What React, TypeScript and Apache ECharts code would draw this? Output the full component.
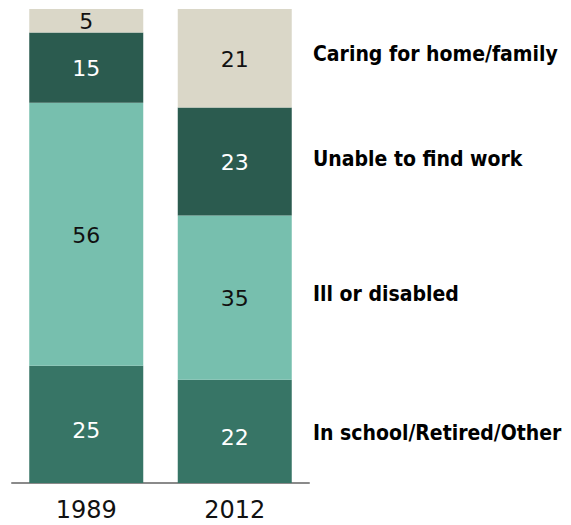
import React, { useEffect, useRef } from "react";
import * as echarts from "echarts";

const years = ["1989", "2012"];
const seriesNames = [
  "In school/Retired/Other",
  "Ill or disabled",
  "Unable to find work",
  "Caring for home/family",
];
const schoolRetiredOther = [25, 22];
const illDisabled = [56, 35];
const unableToFindWork = [15, 23];
const caringHomeFamily = [5, 21];
const colors = ["#377566", "#77bfae", "#2b5b4f", "#dad7c8"];
const labelColors = ["#ffffff", "#111111", "#ffffff", "#111111"];
const labelOffsets = [6, 1, 1, 1];
const rightLabelY = [434, 295, 160, 55];

export default function App() {
  const ref = useRef<HTMLDivElement>(null);
  useEffect(() => {
    document.body.style.margin = "0";
    const chart = echarts.init(ref.current!, null, { renderer: "svg" });
    const data = [schoolRetiredOther, illDisabled, unableToFindWork, caringHomeFamily];
    chart.setOption({
      animation: false,
      grid: { left: 12, width: 297, top: 9, bottom: 42 },
      xAxis: {
        type: "category",
        data: years,
        axisLine: { lineStyle: { color: "#8a8a8a", width: 2 } },
        axisTick: { show: false },
        axisLabel: {
          margin: 17,
          lineHeight: 20,
          color: "#111",
          fontSize: 24,
          fontFamily: "DejaVu Sans",
        },
      },
      yAxis: { type: "value", min: 0, max: 101, show: false },
      series: data.map((d, i) => ({
        type: "bar",
        name: seriesNames[i],
        stack: "total",
        barWidth: 114,
        data: d,
        itemStyle: { color: colors[i] },
        label: {
          show: true,
          position: "inside",
          offset: [0, labelOffsets[i]],
          color: labelColors[i],
          fontSize: 22,
          fontFamily: "DejaVu Sans",
        },
      })),
      graphic: seriesNames.map((n, i) => ({
        type: "text",
        left: 313,
        top: rightLabelY[i] - 12,
        style: {
          text: n,
          fontSize: 21,
          fontWeight: "bold",
          fontFamily: "DejaVu Sans Condensed",
          fill: "#000",
        },
      })),
    });
    return () => chart.dispose();
  }, []);
  return (
    <div
      ref={ref}
      style={{ position: "absolute", left: 0, top: 0, width: 571, height: 525 }}
    />
  );
}
